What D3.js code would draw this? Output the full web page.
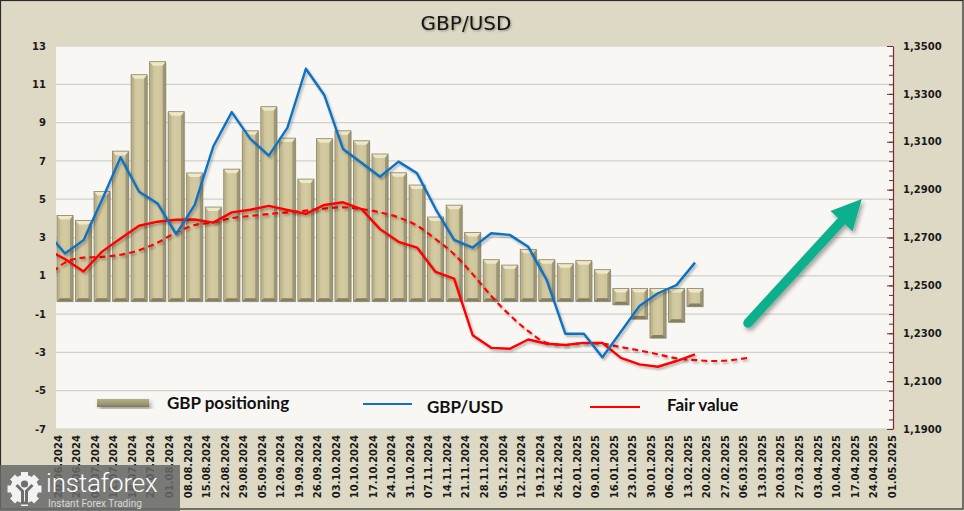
<!DOCTYPE html>
<html><head><meta charset="utf-8">
<script src="https://cdn.jsdelivr.net/npm/d3@7/dist/d3.min.js"></script>
<style>
html,body{margin:0;padding:0;background:#ddd9c4;}
svg{display:block;}
</style></head>
<body>
<svg id="chart" width="964" height="511"></svg>
<script>
// ---------- data ----------
const dates = ["20.06.2024","27.06.2024","04.07.2024","11.07.2024","18.07.2024","25.07.2024","01.08.2024","08.08.2024","15.08.2024","22.08.2024","29.08.2024","05.09.2024","12.09.2024","19.09.2024","26.09.2024","03.10.2024","10.10.2024","17.10.2024","24.10.2024","31.10.2024","07.11.2024","14.11.2024","21.11.2024","28.11.2024","05.12.2024","12.12.2024","19.12.2024","26.12.2024","02.01.2025","09.01.2025","16.01.2025","23.01.2025","30.01.2025","06.02.2025","13.02.2025","20.02.2025","27.02.2025","06.03.2025","13.03.2025","20.03.2025","27.03.2025","03.04.2025","10.04.2025","17.04.2025","24.04.2025","01.05.2025"];
const positioning = [4.15,3.89,5.40,7.51,11.50,12.18,9.57,6.37,4.59,6.57,8.57,9.83,8.19,6.05,8.16,8.57,8.05,7.36,6.38,5.74,4.07,4.69,3.26,1.84,1.56,2.38,1.84,1.63,1.79,1.32,-0.51,-1.26,-2.25,-1.42,-0.60];
// line series start one week before the first visible date (clipped at the left edge)
const lineStartIndex = -1;
const gbpusd = [1.2724,1.2633,1.2689,1.2858,1.3035,1.2891,1.2842,1.2714,1.2836,1.3080,1.3224,1.3112,1.3042,1.3158,1.3405,1.3294,1.3070,1.3012,1.2954,1.3017,1.2968,1.2819,1.2690,1.2658,1.2718,1.2711,1.2661,1.2522,1.2298,1.2298,1.2200,1.2306,1.2414,1.2467,1.2501,1.2595];
const fairValue = [1.2651,1.2610,1.2558,1.2641,1.2696,1.2749,1.2766,1.2774,1.2775,1.2762,1.2805,1.2816,1.2832,1.2815,1.2799,1.2836,1.2847,1.2819,1.2735,1.2682,1.2658,1.2556,1.2528,1.2292,1.2239,1.2235,1.2274,1.2256,1.2251,1.2260,1.2260,1.2197,1.2170,1.2160,1.2184,1.2212];
const fairTrend = [1.2527,1.2595,1.2616,1.2619,1.2628,1.2647,1.2679,1.2721,1.2752,1.2763,1.2781,1.2790,1.2798,1.2805,1.2812,1.2821,1.2826,1.2819,1.2805,1.2784,1.2749,1.2693,1.2630,1.2547,1.2456,1.2376,1.2309,1.2260,1.2251,1.2259,1.2256,1.2242,1.2228,1.2212,1.2195,1.2188,1.2184,1.2188,1.2199];
const leftTicks = [13,11,9,7,5,3,1,-1,-3,-5,-7];
const rightTicks = [1.35,1.33,1.31,1.29,1.27,1.25,1.23,1.21,1.19];
const legendLabels = ["GBP positioning","GBP/USD","Fair value"];
const arrowFrom = [36.86, 1.2343], arrowTo = [43.0, 1.2861];

// ---------- layout ----------
const W = 964, H = 511;
const plot = {l:56, r:893, t:46, b:429};
const svg = d3.select("#chart");
const defs = svg.append("defs");

const x = d3.scaleLinear().domain([0,45]).range([65, 65+45*18.53]);
const yL = d3.scaleLinear().domain([-7,13]).range([plot.b, plot.t]);
const yR = d3.scaleLinear().domain([1.19,1.35]).range([plot.b, plot.t]);

// filters / gradients
const sh = defs.append("filter").attr("id","lineShadow").attr("x","-5%").attr("y","-5%").attr("width","110%").attr("height","120%");
sh.append("feDropShadow").attr("dx",1.5).attr("dy",2).attr("stdDeviation",1.3).attr("flood-color","#000").attr("flood-opacity",0.28);
const sh2 = defs.append("filter").attr("id","arrowShadow").attr("x","-20%").attr("y","-20%").attr("width","140%").attr("height","140%");
sh2.append("feDropShadow").attr("dx",2).attr("dy",3).attr("stdDeviation",2).attr("flood-color","#000").attr("flood-opacity",0.35);
const tsh = defs.append("filter").attr("id","textShadow");
tsh.append("feDropShadow").attr("dx",1).attr("dy",1).attr("stdDeviation",0.8).attr("flood-color","#000").attr("flood-opacity",0.35);
const barG = defs.append("linearGradient").attr("id","barFace").attr("x1",0).attr("x2",1).attr("y1",0).attr("y2",0);
barG.append("stop").attr("offset","0%").attr("stop-color","#c7bd94");
barG.append("stop").attr("offset","45%").attr("stop-color","#d4cba2");
barG.append("stop").attr("offset","100%").attr("stop-color","#c9c097");
const legG = defs.append("linearGradient").attr("id","legFace").attr("x1",0).attr("x2",0).attr("y1",0).attr("y2",1);
legG.append("stop").attr("offset","0%").attr("stop-color","#b3ad88");
legG.append("stop").attr("offset","60%").attr("stop-color","#9e9873");
legG.append("stop").attr("offset","100%").attr("stop-color","#7e785a");
defs.append("clipPath").attr("id","plotClip").append("rect")
  .attr("x",plot.l).attr("y",plot.t).attr("width",plot.r-plot.l).attr("height",plot.b-plot.t);

// background
svg.append("rect").attr("width",W).attr("height",H).attr("fill","#ddd9c4");
svg.append("rect").attr("x",plot.l).attr("y",plot.t).attr("width",plot.r-plot.l).attr("height",plot.b-plot.t).attr("fill","#f8f7f3");

// gridlines
svg.append("g").selectAll("line").data(leftTicks).join("line")
  .attr("x1",plot.l).attr("x2",plot.r).attr("y1",d=>yL(d)).attr("y2",d=>yL(d))
  .attr("stroke","#d2d0cc").attr("stroke-width",1.2);

// title
svg.append("text").attr("x",466).attr("y",30).attr("text-anchor","middle")
  .attr("font-family","DejaVu Sans, Verdana, sans-serif").attr("font-size",20).attr("fill","#151515")
  .attr("filter","url(#textShadow)").text("GBP/USD");

// left axis labels
svg.append("g").selectAll("text").data(leftTicks).join("text")
  .attr("x",46).attr("y",d=>yL(d)).attr("dy","0.36em").attr("text-anchor","end")
  .attr("font-family","DejaVu Sans, Verdana, sans-serif").attr("font-weight","bold").attr("font-size",10)
  .attr("fill","#1a1a1a").text(d=>d);

// right axis
const fmtR = v => d3.format(".4f")(v).replace(".", ",");
const minor = d3.range(0,41).map(k => 1.19 + k*0.004);
svg.append("g").attr("transform",`translate(${plot.r},0)`)
  .call(d3.axisRight(yR).tickValues(minor).tickSizeInner(-4).tickSizeOuter(0).tickFormat(""))
  .call(g=>{g.select(".domain").attr("stroke","#7a2a2a").attr("stroke-width",1.2);
            g.selectAll(".tick line").attr("stroke","#7a2a2a");});
svg.append("g").attr("transform",`translate(${plot.r},0)`)
  .call(d3.axisRight(yR).tickValues(rightTicks).tickSizeInner(-6).tickSizeOuter(0).tickPadding(10).tickFormat(fmtR))
  .call(g=>{g.select(".domain").remove();
            g.selectAll(".tick line").attr("stroke","#7a2a2a");
            g.selectAll(".tick text").attr("font-family","DejaVu Sans, Verdana, sans-serif")
              .attr("font-weight","bold").attr("font-size",10).attr("fill","#1a1a1a");});

// x labels
svg.append("g").selectAll("text").data(dates).join("text")
  .attr("transform",(d,i)=>`translate(${x(i)-3.2},435) rotate(-90)`)
  .attr("text-anchor","end")
  .attr("font-family","DejaVu Sans, Verdana, sans-serif").attr("font-weight","bold").attr("font-size",10)
  .attr("fill","#1a1a1a").text(d=>d);

// bars (bevelled)
const bw = 16, ext = 6.4, bv = 4;
svg.append("g").attr("clip-path","url(#plotClip)").selectAll("g").data(positioning).join("g")
  .each(function(v,i){
    const g = d3.select(this);
    const L = x(i)-bw/2, R = L+bw;
    const T = v>=0 ? yL(v) : yL(0)-ext;
    const B = v>=0 ? yL(0)+ext : yL(v);
    g.append("rect").attr("x",L+1).attr("y",T+1).attr("width",bw).attr("height",B-T).attr("fill","rgba(0,0,0,0.12)");
    g.append("rect").attr("x",L).attr("y",T).attr("width",bw).attr("height",B-T).attr("fill","url(#barFace)");
    g.append("polygon").attr("points",`${L},${T} ${R},${T} ${R-3},${T+bv} ${L+3},${T+bv}`).attr("fill","#efe8c8");
    g.append("polygon").attr("points",`${L},${T} ${L+3},${T+bv} ${L+3},${B-3} ${L},${B}`).attr("fill","#bdb48c");
    g.append("polygon").attr("points",`${R},${T} ${R},${B} ${R-3},${B-3} ${R-3},${T+bv}`).attr("fill","#9e9876");
    g.append("polygon").attr("points",`${L},${B} ${R},${B} ${R-3},${B-3} ${L+3},${B-3}`).attr("fill","#857f61");
    g.append("rect").attr("x",L).attr("y",T).attr("width",bw).attr("height",B-T).attr("fill","none").attr("stroke","#8a8467").attr("stroke-width",0.8);
  });

// lines
const lineGen = d3.line().x(d=>x(d[0])).y(d=>yR(d[1]));
const toPts = arr => arr.map((v,k)=>[k+lineStartIndex, v]);
const lg = svg.append("g").attr("clip-path","url(#plotClip)");
lg.append("path").datum(toPts(fairTrend)).attr("d",lineGen.curve(d3.curveMonotoneX))
  .attr("fill","none").attr("stroke","#ff0000").attr("stroke-width",2.2).attr("stroke-dasharray","6,4").attr("filter","url(#lineShadow)");
lineGen.curve(d3.curveLinear);
lg.append("path").datum(toPts(fairValue)).attr("d",lineGen)
  .attr("fill","none").attr("stroke","#ff0000").attr("stroke-width",2.4).attr("stroke-linejoin","round").attr("filter","url(#lineShadow)");
lg.append("path").datum(toPts(gbpusd)).attr("d",lineGen)
  .attr("fill","none").attr("stroke","#1071c4").attr("stroke-width",2.4).attr("stroke-linejoin","round").attr("filter","url(#lineShadow)");

// arrow
const ax0 = x(arrowFrom[0]), ay0 = yR(arrowFrom[1]), ax1 = x(arrowTo[0]), ay1 = yR(arrowTo[1]);
const ang = Math.atan2(ay1-ay0, ax1-ax0);
const headLen = 30, headW = 15;
const bx = ax1 - headLen*Math.cos(ang), by = ay1 - headLen*Math.sin(ang);
const px = -Math.sin(ang), py = Math.cos(ang);
const ag = svg.append("g").attr("filter","url(#arrowShadow)");
ag.append("line").attr("x1",ax0).attr("y1",ay0).attr("x2",bx+6*Math.cos(ang)).attr("y2",by+6*Math.sin(ang))
  .attr("stroke","#10b08d").attr("stroke-width",9.5).attr("stroke-linecap","round");
ag.append("polygon").attr("points",`${ax1},${ay1} ${bx+px*headW},${by+py*headW} ${bx-px*headW},${by-py*headW}`)
  .attr("fill","#10b08d");

// legend
const lf = "Lato, 'Open Sans', sans-serif";
svg.append("rect").attr("x",97).attr("y",399).attr("width",52).attr("height",8).attr("fill","url(#legFace)").attr("filter","url(#arrowShadow)");
svg.append("line").attr("x1",363).attr("x2",412).attr("y1",404).attr("y2",404).attr("stroke","#1071c4").attr("stroke-width",2);
svg.append("line").attr("x1",590).attr("x2",640).attr("y1",407).attr("y2",407).attr("stroke","#ff0000").attr("stroke-width",2);
const legText = svg.append("g").attr("font-family",lf).attr("font-weight","bold").attr("font-size",17).attr("fill","#111");
legText.append("text").attr("x",167).attr("y",409).text(legendLabels[0]);
legText.append("text").attr("x",427).attr("y",413).text(legendLabels[1]);
legText.append("text").attr("x",667).attr("y",411).text(legendLabels[2]);

// outer frame
svg.append("rect").attr("x",0.5).attr("y",0.5).attr("width",W-1.5).attr("height",H-2.5)
  .attr("fill","none").attr("stroke","#2a2a2a").attr("stroke-width",1.2);

// watermark logo
const logo = svg.append("g");
logo.append("rect").attr("x",0).attr("y",465).attr("width",180).attr("height",46).attr("fill","rgba(105,105,105,0.86)");
const gc = [24.5, 489], gr = 14;
const teeth = d3.range(8).map(k=>k*Math.PI/4);
logo.append("g").selectAll("rect").data(teeth).join("rect")
  .attr("x",gc[0]-3.5).attr("y",gc[1]-gr-3).attr("width",7).attr("height",8)
  .attr("transform",d=>`rotate(${d*180/Math.PI},${gc[0]},${gc[1]})`).attr("fill","#f2f2f2");
logo.append("circle").attr("cx",gc[0]).attr("cy",gc[1]).attr("r",gr).attr("fill","#f2f2f2");
logo.append("circle").attr("cx",gc[0]).attr("cy",gc[1]-5).attr("r",3.6).attr("fill","#6e6e6e");
logo.append("path").attr("d",`M${gc[0]-8},${gc[1]-4} L${gc[0]-2},${gc[1]+2} L${gc[0]-2},${gc[1]+14} L${gc[0]+2},${gc[1]+14} L${gc[0]+2},${gc[1]+2} L${gc[0]+8},${gc[1]-4}`)
  .attr("fill","none").attr("stroke","#6e6e6e").attr("stroke-width",3);
logo.append("text").attr("x",46).attr("y",492).attr("font-family","Roboto, 'Open Sans', sans-serif").attr("font-weight",300)
  .attr("font-size",26).attr("fill","#ffffff").attr("letter-spacing",-0.2).text("instaforex");
logo.append("text").attr("x",48).attr("y",507).attr("font-family","Roboto, 'Open Sans', sans-serif")
  .attr("font-size",10).attr("fill","#d9d9d9").text("Instant Forex Trading");
</script>
</body></html>
